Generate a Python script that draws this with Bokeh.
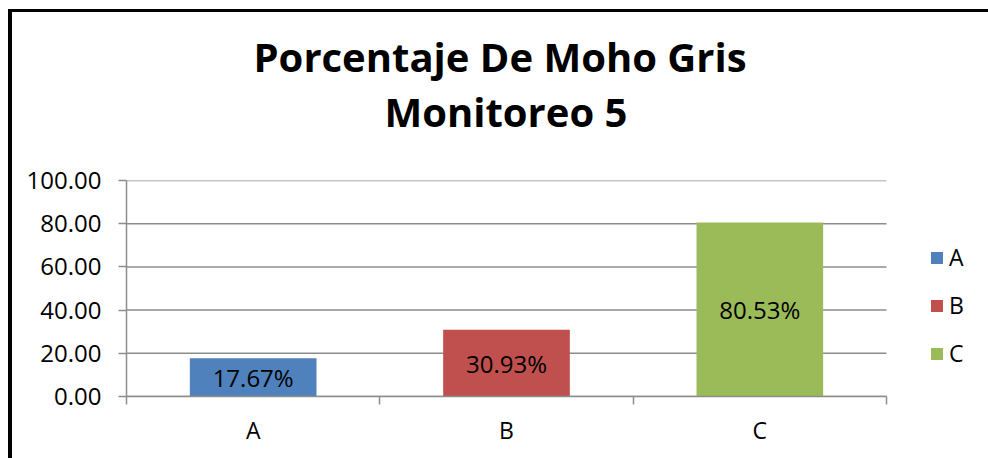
from bokeh.plotting import figure
from bokeh.models import (ColumnDataSource, FixedTicker, Legend, LegendItem, Title,
                          Range1d, NumeralTickFormatter, Spacer)
from bokeh.layouts import column, row
from bokeh.embed import file_html
from bokeh.resources import INLINE
from bokeh.core.properties import value

categories = ["A", "B", "C"]
percentages = [17.67, 30.93, 80.53]
bar_labels = ["17.67%", "30.93%", "80.53%"]
y_ticks = [0, 20, 40, 60, 80, 100]
title_line1 = "Porcentaje De Moho Gris"
title_line2 = "Monitoreo 5"
colors = ["#4F81BD", "#C0504D", "#9BBB59"]

FONT = "Open Sans"
GRAY = "#8c8c8c"
n = len(categories)
x_pos = [i + 0.5 for i in range(n)]
# the plotting frame also holds the legend area on the right (760 px of bars + 102 px legend)
x_end = n * 862 / 760

src = ColumnDataSource(dict(x=x_pos, top=percentages, cat=categories, color=colors,
                            label=bar_labels, mid=[v / 2 for v in percentages]))

p = figure(width=976, height=446, x_range=Range1d(0, x_end), y_range=Range1d(0, 100),
           output_backend="svg", toolbar_location=None, title=None,
           min_border_left=114, min_border_right=0, min_border_top=168,
           min_border_bottom=62)
p.outline_line_color = None
p.background_fill_color = "white"
p.border_fill_color = "white"

# titles (t0 is an invisible spacer between the plot frame and the second title line)
t0 = Title(text=" ", text_font=FONT, text_font_size="10px", standoff=26)
t2 = Title(text=title_line2, align="left", offset=258, text_font=FONT, text_font_size="40px",
           text_font_style="bold", text_color="black", standoff=0)
t1 = Title(text=title_line1, align="left", offset=127, text_font=FONT, text_font_size="40px",
           text_font_style="bold", text_color="black", standoff=-5)
p.add_layout(t0, "above")
p.add_layout(t2, "above")
p.add_layout(t1, "above")

# horizontal grid lines limited to the category area
p.segment(x0=[0] * len(y_ticks), x1=[n] * len(y_ticks), y0=y_ticks, y1=y_ticks,
          line_color=GRAY, line_width=1.5)

r = p.vbar(x="x", top="top", width=0.5, source=src, fill_color="color", line_color=None)
p.text(x="x", y="mid", text="label", source=src, text_align="center",
       text_baseline="middle", text_font=value(FONT), text_font_size="24px",
       text_color="black")

# y axis
p.yaxis.ticker = FixedTicker(ticks=y_ticks)
p.yaxis.formatter = NumeralTickFormatter(format="0.00")
p.yaxis.axis_line_color = GRAY
p.yaxis.axis_line_width = 1.5
p.yaxis.major_tick_line_color = GRAY
p.yaxis.major_tick_line_width = 1.5
p.yaxis.major_tick_out = 8
p.yaxis.major_tick_in = 0
p.yaxis.minor_tick_line_color = None
p.yaxis.major_label_text_font = FONT
p.yaxis.major_label_text_font_size = "24px"
p.yaxis.major_label_text_color = "black"
p.yaxis.major_label_standoff = 17

# x axis
p.xaxis.bounds = (0, n)
p.xaxis.ticker = FixedTicker(ticks=x_pos, minor_ticks=list(range(n + 1)))
p.xaxis.major_label_overrides = {x: c for x, c in zip(x_pos, categories)}
p.xaxis.axis_line_color = GRAY
p.xaxis.axis_line_width = 1.5
p.xaxis.major_tick_line_color = None
p.xaxis.minor_tick_line_color = GRAY
p.xaxis.minor_tick_line_width = 1.5
p.xaxis.minor_tick_out = 8
p.xaxis.minor_tick_in = 0
p.xaxis.major_label_text_font = FONT
p.xaxis.major_label_text_font_size = "23px"
p.xaxis.major_label_text_color = "black"
p.xaxis.major_label_standoff = 9

p.xgrid.visible = False
p.ygrid.visible = False

legend = Legend(items=[LegendItem(label=c, renderers=[r], index=i) for i, c in enumerate(categories)],
                location=(803, 27), orientation="vertical",
                glyph_width=15, glyph_height=15, label_standoff=5, spacing=16,
                padding=0, margin=0, border_line_color=None, background_fill_alpha=0,
                label_text_font=FONT, label_text_font_size="23px", label_text_color="black")
p.add_layout(legend, "center")

black = {"background-color": "black"}
layout = column(
    Spacer(width=988, height=9),
    row(
        Spacer(width=8, height=449),
        column(
            Spacer(width=980, height=3, styles=black),
            row(Spacer(width=4, height=446, styles=black), p),
        ),
    ),
)

open("out.html", "w").write(file_html(layout, INLINE))
